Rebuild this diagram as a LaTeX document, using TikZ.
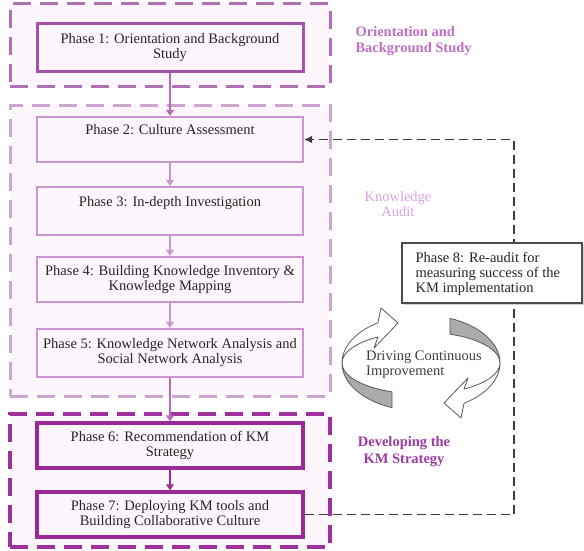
\documentclass[tikz,border=0pt]{standalone}
\usepackage{fontspec}
\setmainfont{Liberation Serif}
\usetikzlibrary{arrows.meta,shadows,calc}
\definecolor{grpA}{HTML}{B070B4}
\definecolor{grpB}{HTML}{CDA6CF}
\definecolor{grpC}{HTML}{A0309C}
\definecolor{boxA}{HTML}{A552AB}
\definecolor{boxB}{HTML}{CB94D2}
\definecolor{boxC}{HTML}{9A2A96}
\definecolor{lblA}{HTML}{C070C4}
\definecolor{lblB}{HTML}{DCA4DE}
\definecolor{lblC}{HTML}{9E3AA6}
\definecolor{tint}{HTML}{FDF6FD}
\definecolor{ribbon}{HTML}{ABABAB}
\definecolor{ink}{HTML}{262626}
\tikzset{
  basefont/.style={font=\fontsize{14.5}{15}\selectfont},
  grp/.style={draw, rectangle, dash pattern=on 18pt off 9pt, line width=3pt, inner sep=0pt, fill=tint},
  phase/.style={draw, rectangle, basefont, align=center, inner sep=0pt, minimum width=266pt, text=ink, fill=tint},
  phA/.style={phase, draw=boxA, line width=3pt},
  phB/.style={phase, draw=boxB, line width=2.4pt},
  phC/.style={phase, draw=boxC, line width=3.5pt},
  flow/.style={line width=1.2pt, -{Triangle[width=8pt,length=6pt]}},
  grplabel/.style={basefont, align=center},
  feedback/.style={draw=ink!90, line width=1.3pt, dash pattern=on 9pt off 5pt, -{Latex[width=8pt,length=8pt]}},
  ribbonline/.style={draw=black!65, line width=0.8pt, line join=round}
}
\begin{document}
\begin{tikzpicture}[x=1pt,y=-1pt]
\useasboundingbox (0,0) rectangle (584,551);
\fill[white] (0,0) rectangle (584,551);
% group boxes
\node[grp, draw=grpA, minimum width=320pt, minimum height=83pt] (g1) at (170,45.5) {};
\node[grp, draw=grpB, minimum width=320pt, minimum height=291pt] (g2) at (170,250.5) {};
\node[grp, draw=grpC, line width=3.5pt, minimum width=320pt, minimum height=133pt] (g3) at (170,480.5) {};
% group labels
\node[grplabel, text=lblA, align=left, anchor=west, font=\fontsize{14.5}{16}\selectfont\bfseries] (l1) at (352,41) {Orientation and\\Background Study};
\node[grplabel, text=lblB] (l2) at (398,204) {Knowledge\\Audit};
\node[grplabel, text=lblC, font=\fontsize{14.5}{17}\selectfont\bfseries] (l3) at (404,452) {Developing the\\KM Strategy};
% phases
\node[phA, minimum height=48pt] (p1) at (170,48) {Phase 1: Orientation and Background\\Study};
\node[phB, minimum height=45pt] (p2) at (170,139.5) {Phase 2: Culture Assessment\\\strut};
\node[phB, minimum height=48pt] (p3) at (170,211) {Phase 3: In-depth Investigation\\\strut};
\node[phB, minimum height=45pt] (p4) at (170,279.5) {Phase 4: Building Knowledge Inventory \&\\Knowledge Mapping};
\node[phB, minimum height=48pt] (p5) at (170,353) {Phase 5: Knowledge Network Analysis and\\Social Network Analysis};
\node[phC, minimum height=45pt] (p6) at (170,445.5) {Phase 6: Recommendation of KM\\Strategy};
\node[phC, minimum height=45pt] (p7) at (170,514.5) {Phase 7: Deploying KM tools and\\Building Collaborative Culture};
% flow arrows
\draw[flow, draw=boxA!85] (p1) -- (p2);
\draw[flow, draw=boxB] (p2) -- (p3);
\draw[flow, draw=boxB] (p3) -- (p4);
\draw[flow, draw=boxB] (p4) -- (p5);
\draw[flow, draw=boxA!85] (p5) -- (p6);
\draw[flow, draw=boxC] (p6) -- (p7);
% feedback loop
\coordinate (fb) at (514,300);
\draw[feedback] (p7.east) -| (fb) |- (p2.east);
% phase 8
\node[draw=black!70, line width=2pt, fill=white, rectangle, minimum width=180pt, minimum height=60pt, inner sep=0pt,
      drop shadow={shadow xshift=1.5pt, shadow yshift=-1.5pt, fill=black!35}] (p8) at (492,273) {};
\node[basefont, align=left, anchor=west, text=ink] (p8t) at (412,274) {Phase 8: Re-audit for\\measuring success of the\\KM implementation};
% cycle arrows (ellipse centre 421,363; outer ry 48, inner ry 31, rx 79)
\coordinate (cc) at (421,363);
% left arrow: lower gray part
\path[ribbonline, fill=ribbon] ($(cc)+(111.5:79 and 48)$) arc[start angle=111.5, end angle=180, x radius=79, y radius=48]
  arc[start angle=180, end angle=111.5, x radius=79, y radius=31] -- cycle;
% left arrow: upper white part with head
\path[ribbonline, fill=white] ($(cc)+(180:79 and 48)$) arc[start angle=180, end angle=237, x radius=79, y radius=48]
  -- (381,308) -- (398,323) -- (374,348) -- ($(cc)+(237:79 and 31)$)
  arc[start angle=237, end angle=180, x radius=79, y radius=31] -- cycle;
% right arrow: upper gray part
\path[ribbonline, fill=ribbon] ($(cc)+(291.5:79 and 48)$) arc[start angle=291.5, end angle=360, x radius=79, y radius=48]
  arc[start angle=360, end angle=291.5, x radius=79, y radius=31] -- cycle;
% right arrow: lower white part with head
\path[ribbonline, fill=white] ($(cc)+(0:79 and 48)$) arc[start angle=0, end angle=57, x radius=79, y radius=48]
  -- (461,418) -- (444,403) -- (468,378) -- ($(cc)+(57:79 and 31)$)
  arc[start angle=57, end angle=0, x radius=79, y radius=31] -- cycle;
\node[basefont, align=left, text=black!75] (cyc) at (424,365) {Driving Continuous\\Improvement};
\end{tikzpicture}
\end{document}
